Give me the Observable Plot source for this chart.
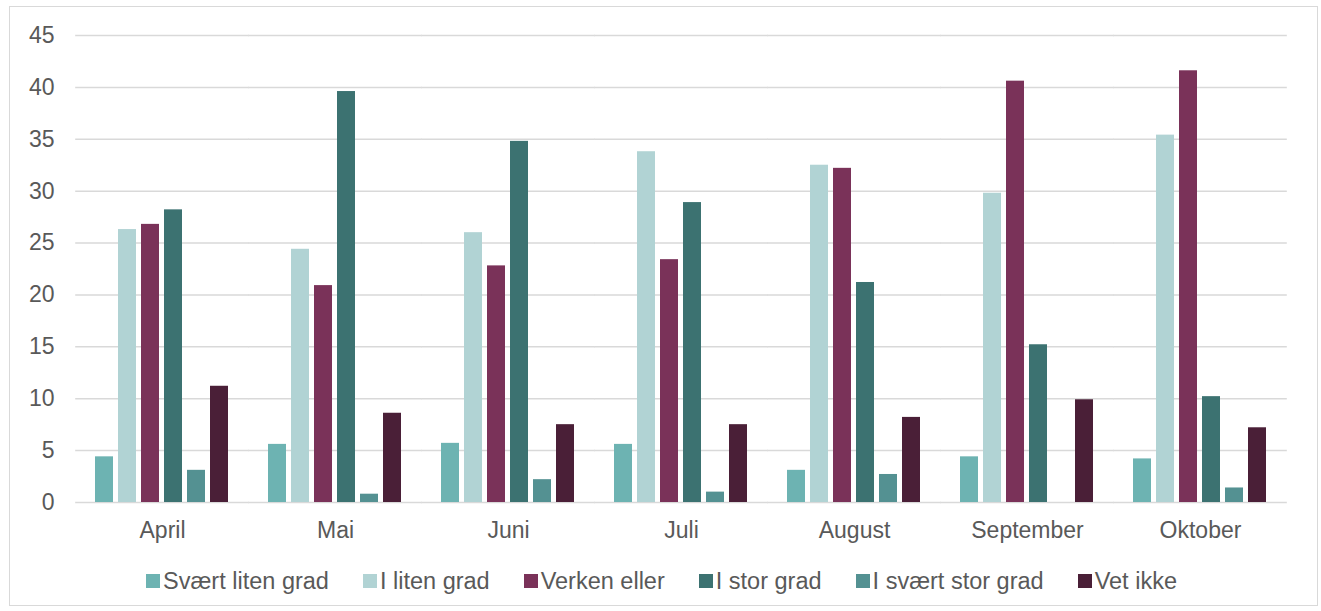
<!DOCTYPE html>
<html>
<head>
<meta charset="utf-8">
<script src="https://cdn.jsdelivr.net/npm/d3@7"></script>
<script src="https://cdn.jsdelivr.net/npm/@observablehq/plot@0.6"></script>
<style>
  body { margin: 0; background: #fff; font-family: "Liberation Sans", Arial, sans-serif; }
  #wrap { position: relative; width: 1321px; height: 611px; }
  #frame { position: absolute; left: 9px; top: 6px; width: 1309px; height: 600px; border: 1.5px solid #d9d9d9; box-sizing: border-box; pointer-events: none; }
  #chart { position: absolute; left: 0; top: 0; }
  #legend { position: absolute; left: 0; top: 567px; width: 1321px; display: flex; justify-content: center; gap: 34px; font-size: 23.5px; color: #595959; padding-left: 2px; box-sizing: border-box; line-height: 28px; }
  #legend .item { display: flex; align-items: center; }
  #legend .sw { width: 14px; height: 14px; margin-right: 3px; }
</style>
</head>
<body>
<div id="wrap">
  <div id="chart"></div>
  <div id="frame"></div>
  <div id="legend"></div>
</div>
<script>
const months = ["April", "Mai", "Juni", "Juli", "August", "September", "Oktober"];
const series = ["Svært liten grad", "I liten grad", "Verken eller", "I stor grad", "I svært stor grad", "Vet ikke"];
const colors = ["#6db3b2", "#b1d3d4", "#7a3259", "#3c7271", "#549192", "#4a1f37"];
const svaertLiten = [4.4, 5.6, 5.7, 5.6, 3.1, 4.4, 4.2];
const iLiten      = [26.3, 24.4, 26.0, 33.8, 32.5, 29.8, 35.4];
const verken      = [26.8, 20.9, 22.8, 23.4, 32.2, 40.6, 41.6];
const iStor       = [28.2, 39.6, 34.8, 28.9, 21.2, 15.2, 10.2];
const iSvaertStor = [3.1, 0.8, 2.2, 1.0, 2.7, 0, 1.4];
const vetIkke     = [11.2, 8.6, 7.5, 7.5, 8.2, 9.9, 7.2];
const yTicks = [0, 5, 10, 15, 20, 25, 30, 35, 40, 45];

const values = [svaertLiten, iLiten, verken, iStor, iSvaertStor, vetIkke];
const data = [];
months.forEach((m, i) => {
  series.forEach((s, j) => {
    data.push({month: m, series: s, value: values[j][i]});
  });
});

const W = 1321, ML = 75, MR = 34;
const fxStep = (W - ML - MR) / months.length;
const half = fxStep * 0.2 / 2 + 0.5;

const chart = Plot.plot({
  width: W,
  height: 560,
  marginLeft: ML,
  marginRight: MR,
  marginTop: 35,
  marginBottom: 58,
  style: {fontFamily: "'Liberation Sans', Arial, sans-serif", fontSize: "23px", color: "#595959", background: "transparent"},
  fx: {domain: months, paddingInner: 0.2, paddingOuter: 0.1, label: null, axis: null},
  x: {domain: series, paddingInner: 0.2, paddingOuter: 0.1, axis: null},
  y: {domain: [0, 45], ticks: yTicks, label: null, axis: null},
  color: {domain: series, range: colors},
  marks: [
    Plot.ruleY(yTicks, {stroke: "#d9d9d9", strokeWidth: 1.5, insetLeft: -half, insetRight: -half}),
    Plot.axisY(yTicks, {anchor: "left", tickSize: 0, tickPadding: 39, fontSize: 23, fill: "#595959", label: null}),
    Plot.axisFx({anchor: "bottom", tickSize: 0, tickPadding: 19, fontSize: 23, fill: "#595959", label: null}),
    Plot.barY(data, {fx: "month", x: "series", y: "value", fill: "series"})
  ]
});
document.getElementById("chart").appendChild(chart);

const legend = document.getElementById("legend");
series.forEach((s, i) => {
  const it = document.createElement("div");
  it.className = "item";
  const sw = document.createElement("span");
  sw.className = "sw";
  sw.style.background = colors[i];
  const t = document.createElement("span");
  t.textContent = s;
  it.appendChild(sw); it.appendChild(t);
  legend.appendChild(it);
});
</script>
</body>
</html>
